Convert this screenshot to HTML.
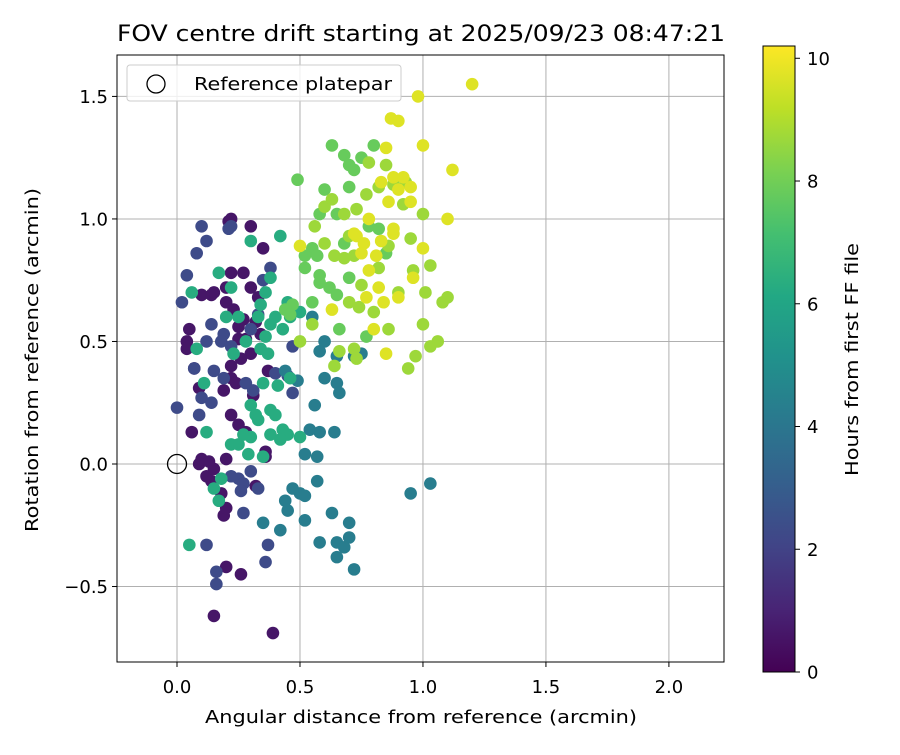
<!DOCTYPE html>
<html><head><meta charset="utf-8"><style>
body{margin:0;background:#fff}
svg text{font-family:"DejaVu Sans","Liberation Sans",sans-serif;fill:#000}
</style></head><body>
<svg id="chart" width="900" height="750" xmlns="http://www.w3.org/2000/svg">
<defs>
<linearGradient id="vir" x1="0" y1="1" x2="0" y2="0">
<stop offset="0" stop-color="#440154"/><stop offset="0.1" stop-color="#482475"/><stop offset="0.2" stop-color="#414487"/><stop offset="0.3" stop-color="#355f8d"/><stop offset="0.4" stop-color="#2a788e"/><stop offset="0.5" stop-color="#21918c"/><stop offset="0.6" stop-color="#22a884"/><stop offset="0.7" stop-color="#44bf70"/><stop offset="0.8" stop-color="#7ad151"/><stop offset="0.9" stop-color="#bddf26"/><stop offset="1" stop-color="#fde725"/>
</linearGradient>
<clipPath id="clip"><rect x="117" y="55" width="607" height="607"/></clipPath>
</defs>
<rect width="900" height="750" fill="#fff"/>
<g id="grid"></g>
<g id="pts" clip-path="url(#clip)"></g>
<rect x="117" y="55" width="607" height="607" fill="none" stroke="#000" stroke-width="1"/>
<g id="axes"></g>
<text x="117" y="41" font-size="22" textLength="608" lengthAdjust="spacingAndGlyphs">FOV centre drift starting at 2025/09/23 08:47:21</text>
<text x="205" y="723" font-size="18" textLength="432" lengthAdjust="spacingAndGlyphs">Angular distance from reference (arcmin)</text>
<text transform="translate(38,532) rotate(-90)" font-size="18" textLength="344" lengthAdjust="spacingAndGlyphs">Rotation from reference (arcmin)</text>
<g>
<rect x="127" y="65" width="274" height="36" rx="3" fill="#fff" fill-opacity="0.8" stroke="#ccc"/>
<circle cx="156" cy="84" r="9" fill="none" stroke="#000" stroke-width="1.3"/>
<text x="194" y="90" font-size="18" textLength="198" lengthAdjust="spacingAndGlyphs">Reference platepar</text>
</g>
<rect x="763" y="46" width="32" height="626" fill="url(#vir)" stroke="#000" stroke-width="1"/>
<g id="cbar"></g>
<text transform="translate(858,476) rotate(-90)" font-size="18" textLength="233" lengthAdjust="spacingAndGlyphs">Hours from first FF file</text>
</svg>
<script>
const xTicks=[0,0.5,1.0,1.5,2.0];
const xTickLabels=["0.0","0.5","1.0","1.5","2.0"];
const yTicks=[-0.5,0,0.5,1.0,1.5];
const yTickLabels=["\u22120.5","0.0","0.5","1.0","1.5"];
const cbTicks=[0,2,4,6,8,10];
const groupHours=[0.6,2.3,4.3,6.3,7.8,8.7,9.7];
const groupPoints=[
[[0.1,0.69],[0.14,0.69],[0.15,0.7],[0.2,0.72],[0.22,0.78],[0.27,0.78],[0.2,0.66],[0.23,0.63],[0.27,0.59],[0.32,0.58],[0.34,0.53],[0.28,0.51],[0.25,0.51],[0.3,0.45],[0.26,0.43],[0.22,0.35],[0.24,0.33],[0.19,0.3],[0.22,0.2],[0.25,0.16],[0.28,0.13],[0.09,0.31],[0.07,0.39],[0.05,0.55],[0.04,0.5],[0.04,0.47],[0.06,0.13],[0.09,0.0],[0.12,-0.05],[0.14,-0.07],[0.15,-0.02],[0.18,-0.12],[0.19,-0.21],[0.2,-0.18],[0.2,-0.42],[0.26,-0.45],[0.15,-0.62],[0.39,-0.69],[0.32,-0.09],[0.2,0.02],[0.36,0.03],[0.1,0.02],[0.13,0.01],[0.22,0.4],[0.31,0.28],[0.37,0.38],[0.33,0.68],[0.3,0.72],[0.25,0.56],[0.21,0.99],[0.22,1.0],[0.3,0.97],[0.35,0.88],[0.36,0.05]],
[[0.1,0.97],[0.12,0.91],[0.21,0.96],[0.22,0.97],[0.04,0.77],[0.08,0.86],[0.35,0.75],[0.38,0.8],[0.14,0.57],[0.19,0.53],[0.12,0.5],[0.18,0.5],[0.22,0.48],[0.15,0.38],[0.19,0.35],[0.07,0.39],[0.1,0.27],[0.14,0.25],[0.09,0.2],[0.02,0.66],[0.0,0.23],[0.16,-0.44],[0.16,-0.49],[0.25,-0.06],[0.3,-0.03],[0.27,-0.08],[0.22,-0.05],[0.33,-0.1],[0.37,-0.33],[0.36,-0.4],[0.27,-0.2],[0.12,-0.33],[0.26,-0.11],[0.31,0.3],[0.28,0.33],[0.3,0.55],[0.33,0.61],[0.4,0.37],[0.47,0.29],[0.47,0.48],[0.45,0.36]],
[[0.55,0.6],[0.58,0.46],[0.6,0.35],[0.56,0.24],[0.58,0.13],[0.64,0.13],[0.52,0.04],[0.57,0.03],[0.57,-0.07],[0.5,-0.12],[0.52,-0.13],[0.52,-0.23],[0.44,-0.15],[0.45,-0.19],[0.47,-0.1],[0.42,-0.27],[0.35,-0.24],[0.58,-0.32],[0.63,-0.2],[0.65,-0.32],[0.65,-0.38],[0.68,-0.34],[0.7,-0.3],[0.7,-0.24],[0.72,-0.43],[0.95,-0.12],[1.03,-0.08],[0.65,0.33],[0.66,0.29],[0.65,0.44],[0.72,0.44],[0.75,0.45],[0.6,0.5],[0.54,0.14],[0.49,0.34],[0.44,0.38]],
[[0.3,0.91],[0.42,0.93],[0.38,0.76],[0.36,0.7],[0.4,0.6],[0.45,0.66],[0.25,0.6],[0.22,0.72],[0.17,0.78],[0.2,0.6],[0.34,0.65],[0.33,0.6],[0.38,0.57],[0.43,0.55],[0.46,0.6],[0.5,0.62],[0.28,0.5],[0.34,0.47],[0.37,0.45],[0.41,0.32],[0.46,0.35],[0.35,0.33],[0.38,0.22],[0.3,0.24],[0.33,0.18],[0.4,0.2],[0.43,0.14],[0.5,0.11],[0.45,0.12],[0.27,0.12],[0.25,0.08],[0.22,0.08],[0.29,0.04],[0.35,0.03],[0.18,-0.06],[0.17,-0.15],[0.15,-0.1],[0.05,-0.33],[0.06,0.7],[0.08,0.47],[0.11,0.33],[0.12,0.13],[0.38,0.12],[0.42,0.1],[0.3,0.11],[0.36,0.52],[0.23,0.45],[0.32,0.2]],
[[0.63,1.3],[0.68,1.26],[0.7,1.22],[0.72,1.2],[0.75,1.25],[0.8,1.3],[0.6,1.12],[0.58,1.02],[0.65,1.02],[0.7,1.13],[0.49,1.16],[0.55,0.88],[0.52,0.85],[0.57,0.85],[0.58,0.74],[0.62,0.72],[0.55,0.66],[0.65,0.69],[0.7,0.76],[0.78,0.97],[0.82,0.96],[0.85,0.86],[0.68,0.9],[0.77,0.52],[0.66,0.55],[0.58,0.77],[0.52,0.8],[0.47,0.65],[0.44,0.63],[0.46,0.61]],
[[0.6,1.05],[0.63,1.08],[0.68,1.02],[0.73,1.04],[0.77,1.1],[0.82,1.13],[0.85,1.22],[0.88,1.14],[0.78,1.23],[0.93,1.15],[0.7,0.93],[0.64,0.85],[0.68,0.84],[0.72,0.85],[0.75,0.73],[0.7,0.66],[0.74,0.64],[0.8,0.62],[0.86,0.55],[0.9,0.7],[0.95,0.92],[1.0,0.57],[1.03,0.48],[1.06,0.5],[1.08,0.66],[1.1,0.68],[0.97,0.44],[0.94,0.39],[0.66,0.46],[0.72,0.47],[0.73,0.43],[0.64,0.4],[0.55,0.57],[0.5,0.5],[0.86,0.89],[0.92,1.06],[1.0,1.02],[1.03,0.81],[1.01,0.7],[0.96,0.79],[0.82,0.8],[0.6,0.9],[0.56,0.97]],
[[1.2,1.55],[0.98,1.5],[0.87,1.41],[0.9,1.4],[1.0,1.3],[0.85,1.29],[1.12,1.2],[0.88,1.17],[0.92,1.17],[0.83,1.15],[0.9,1.12],[0.95,1.13],[0.78,1.0],[0.95,1.07],[0.86,1.07],[1.1,1.0],[0.5,0.89],[0.73,0.93],[0.76,0.9],[0.81,0.85],[0.78,0.79],[0.82,0.72],[0.88,0.94],[0.84,0.66],[0.63,0.63],[0.96,0.76],[0.9,0.68],[0.85,0.45],[0.75,0.86],[1.0,0.88],[0.88,0.96],[0.8,0.55],[0.83,0.91],[0.77,0.68],[0.72,0.94]]
];
const NS="http://www.w3.org/2000/svg";
const X0=117,X1=724,Y0=55,Y1=662,xmin=-0.244,xmax=2.224,ymin=-0.808,ymax=1.669,hmax=10.2;
function sx(v){return X0+(v-xmin)/(xmax-xmin)*(X1-X0);}
function sy(v){return Y1-(v-ymin)/(ymax-ymin)*(Y1-Y0);}
function cy(h){return 672-h/hmax*626;}
const vir=["#440154","#482475","#414487","#355f8d","#2a788e","#21918c","#22a884","#44bf70","#7ad151","#bddf26","#fde725"];
function hex(c){return [1,3,5].map(i=>parseInt(c.substr(i,2),16));}
function color(h){let t=Math.max(0,Math.min(1,h/hmax))*(vir.length-1);let i=Math.min(vir.length-2,Math.floor(t));let f=t-i;let a=hex(vir[i]),b=hex(vir[i+1]);return "rgb("+a.map((v,k)=>Math.round(v+(b[k]-v)*f)).join(",")+")";}
function mk(tag,attrs,parent){const e=document.createElementNS(NS,tag);for(const k in attrs)e.setAttribute(k,attrs[k]);parent.appendChild(e);return e;}
const grid=document.getElementById('grid'),axes=document.getElementById('axes'),pts=document.getElementById('pts'),cb=document.getElementById('cbar');
xTicks.forEach((v,i)=>{const x=sx(v);
const g=mk('line',{x1:x,x2:x,y1:Y0,y2:Y1,stroke:'#b0b0b0','stroke-width':1},grid);


mk('line',{x1:x,x2:x,y1:Y1,y2:Y1+5,stroke:'#000'},axes);
const t=mk('text',{x:x,y:Y1+31,'font-size':18,'text-anchor':'middle'},axes);t.textContent=xTickLabels[i];

});
yTicks.forEach((v,i)=>{const y=sy(v);
const g=mk('line',{x1:X0,x2:X1,y1:y,y2:y,stroke:'#b0b0b0','stroke-width':1},grid);


mk('line',{x1:X0-5,x2:X0,y1:y,y2:y,stroke:'#000'},axes);
const t=mk('text',{x:X0-9,y:y+6.5,'font-size':18,'text-anchor':'end'},axes);t.textContent=yTickLabels[i];

});
groupPoints.forEach((grp,gi)=>{grp.forEach(p=>{
const c=mk('circle',{cx:sx(p[0]),cy:sy(p[1]),r:6.3,fill:color(groupHours[gi])},pts);

});});
const ref=mk('circle',{cx:sx(0),cy:sy(0),r:9.5,fill:'none',stroke:'#000','stroke-width':1.3},pts);


cbTicks.forEach(h=>{const y=cy(h);
mk('line',{x1:795,x2:800,y1:y,y2:y,stroke:'#000'},cb);
const t=mk('text',{x:807,y:y+6.5,'font-size':18},cb);t.textContent=String(h);

});
</script>
</body></html>
